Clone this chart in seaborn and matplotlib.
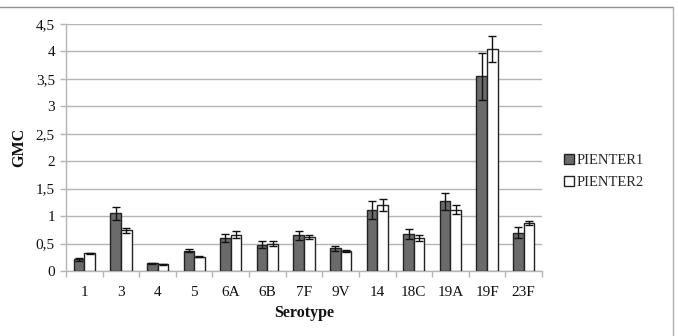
import matplotlib
matplotlib.use("Agg")
import matplotlib.pyplot as plt
from matplotlib.lines import Line2D
from matplotlib.patches import Patch
from matplotlib.ticker import FuncFormatter, FixedLocator
import numpy as np
import pandas as pd
import seaborn as sns

serotypes = ["1", "3", "4", "5", "6A", "6B", "7F", "9V", "14", "18C", "19A", "19F", "23F"]
pienter1 = [0.21, 1.05, 0.14, 0.37, 0.60, 0.48, 0.65, 0.41, 1.11, 0.67, 1.27, 3.55, 0.70]
pienter1_err = [0.02, 0.12, 0.01, 0.03, 0.08, 0.07, 0.08, 0.05, 0.16, 0.09, 0.16, 0.43, 0.10]
pienter2 = [0.32, 0.74, 0.12, 0.26, 0.66, 0.50, 0.62, 0.37, 1.20, 0.60, 1.12, 4.04, 0.87]
pienter2_err = [0.01, 0.05, 0.01, 0.01, 0.06, 0.05, 0.04, 0.02, 0.11, 0.05, 0.08, 0.24, 0.04]
series = ["PIENTER1", "PIENTER2"]
yticks = [0, 0.5, 1, 1.5, 2, 2.5, 3, 3.5, 4, 4.5]

df = pd.DataFrame({
    "Serotype": serotypes * 2,
    "GMC": pienter1 + pienter2,
    "err": pienter1_err + pienter2_err,
    "Series": [series[0]] * len(serotypes) + [series[1]] * len(serotypes),
})

sns.set_theme(style="white")
plt.rcParams["font.family"] = ["Liberation Serif", "DejaVu Serif"]

fig = plt.figure(figsize=(6.78, 3.36), dpi=100)
ax = fig.add_axes([66 / 678, 1 - 271 / 336, (542 - 66) / 678, (271 - 24) / 336])

colors = {"PIENTER1": "#6b6b6b", "PIENTER2": "#ffffff"}
sns.barplot(data=df, x="Serotype", y="GMC", hue="Series", order=serotypes,
            hue_order=series, palette=colors, width=0.58, errorbar=None,
            edgecolor="#222222", linewidth=1.0, saturation=1, ax=ax, legend=False,
            zorder=3)

errs = [pienter1_err, pienter2_err]
for cont, e in zip(ax.containers, errs):
    xs = [p.get_x() + p.get_width() / 2 for p in cont]
    hs = [p.get_height() for p in cont]
    ax.errorbar(xs, hs, yerr=e, fmt="none", ecolor="#111111", elinewidth=1.0,
                capsize=3, capthick=1.0, zorder=4)

ax.set_xlim(-0.5, len(serotypes) - 0.5)
ax.set_ylim(0, 4.5)
ax.set_yticks(yticks)
ax.yaxis.set_major_formatter(FuncFormatter(lambda v, p: (f"{v:g}").replace(".", ",")))
ax.yaxis.grid(True, color="#b5b5b5", linewidth=1.0, zorder=0)
ax.set_axisbelow(True)
for s in ["top", "right"]:
    ax.spines[s].set_visible(False)
ax.spines["left"].set_color("#b5b5b5")
ax.spines["bottom"].set_color("#b5b5b5")
ax.spines["left"].set_linewidth(1.0)
ax.spines["bottom"].set_linewidth(1.0)

ax.tick_params(axis="y", which="major", left=True, length=4, width=1, color="#b5b5b5",
               labelsize=11, pad=4, labelcolor="#111111")
ax.tick_params(axis="x", which="major", bottom=False, labelsize=11, pad=5,
               labelcolor="#111111")
ax.xaxis.set_minor_locator(FixedLocator(np.arange(-0.5, len(serotypes), 1.0)))
ax.tick_params(axis="x", which="minor", bottom=True, length=4, width=1, color="#b5b5b5")

ax.set_xlabel("Serotype", fontsize=11.5, fontweight="bold", labelpad=4, color="#111111")
ax.set_ylabel("GMC", fontsize=11.5, fontweight="bold", labelpad=6, color="#111111")

handles = [Patch(facecolor=colors[s], edgecolor="#222222", linewidth=1.0, label=s) for s in series]
fig.legend(handles=handles, loc="upper left", bbox_to_anchor=(558 / 678, 1 - 148 / 336),
           frameon=False, fontsize=10.5, handlelength=0.7, handleheight=0.7,
           handletextpad=0.15, labelspacing=0.6, borderaxespad=0)

fig.add_artist(Line2D([0, 672.5 / 678], [1 - 7 / 336, 1 - 7 / 336], transform=fig.transFigure,
                      color="#909090", linewidth=1.0))
fig.add_artist(Line2D([672.5 / 678, 672.5 / 678], [0, 1 - 7 / 336], transform=fig.transFigure,
                      color="#b0b0b0", linewidth=1.0))

fig.savefig("out.png", dpi=100)
